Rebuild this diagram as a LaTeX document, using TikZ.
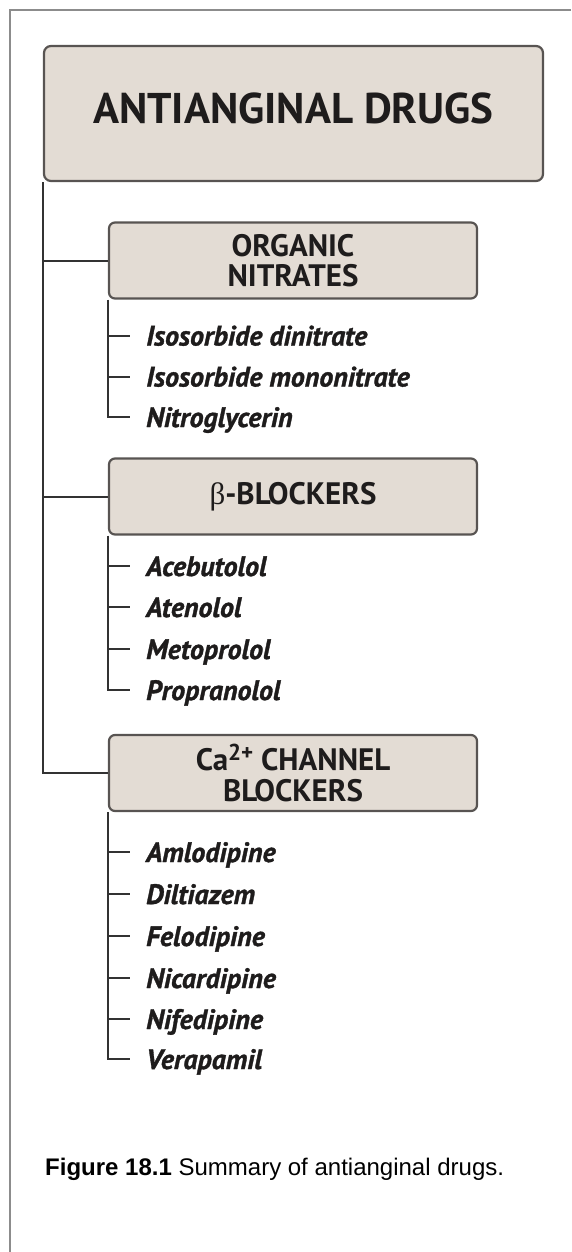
\documentclass[tikz,border=0pt]{standalone}
\usepackage{fontspec}
\setmainfont{PT Sans}
\newfontfamily\itemfont[FakeBold=1.2]{PT Sans}
\newfontfamily\capfont{Liberation Sans}
\newfontfamily\greekfont{Liberation Serif}
\definecolor{boxfill}{RGB}{227,220,212}
\definecolor{boxline}{RGB}{88,84,82}
\definecolor{treeline}{RGB}{50,50,50}
\definecolor{framegray}{RGB}{140,140,140}
\definecolor{ink}{RGB}{30,28,28}
\begin{document}
\begin{tikzpicture}[x=1pt,y=-1pt,
  titlebox/.style={draw=boxline, line width=2.2pt, fill=boxfill, rounded corners=7pt,
    minimum width=499pt, minimum height=135pt, inner sep=0pt,
    font=\fontsize{43}{43}\selectfont\bfseries, text=ink, text height=30pt, text depth=10pt},
  catbox/.style={draw=boxline, line width=2.2pt, fill=boxfill, rounded corners=6pt,
    minimum width=368pt, minimum height=76pt, inner sep=0pt, align=center,
    font=\fontsize{31}{30.5}\selectfont\bfseries, text=ink},
  drug/.style={anchor=west, inner sep=0pt, text=ink, text height=20pt, text depth=0pt,
    font=\itemfont\fontsize{28}{28}\selectfont\bfseries\itshape},
  tree/.style={draw=treeline, line width=2pt},
  tick/.style={draw=treeline, line width=2pt}
]
\useasboundingbox (0,0) rectangle (571,1252);
\draw[framegray, line width=2pt] (571,10) -- (10,10) -- (10,1252);

\node[titlebox] (top) at (293.5,113.5) {ANTIANGINAL DRUGS};

\node[catbox] (org) at (293,260.5) {ORGANIC\\NITRATES};
\node[catbox] (beta) at (293,496.5) {{\greekfont\mdseries β}-BLOCKERS};
\node[catbox] (ca) at (293,773) {Ca\raisebox{0.32em}{\fontsize{23}{23}\selectfont 2+} CHANNEL\\BLOCKERS};

% trunk and branches
\draw[tree] (top.south west) |- (ca.west);
\draw[tree] (top.south west |- org.west) -- (org.west);
\draw[tree] (top.south west |- beta.west) -- (beta.west);

% organic nitrates
\node[drug] (o1) at (146,335.5) {Isosorbide dinitrate};
\node[drug] (o2) at (146,376.5) {Isosorbide mononitrate};
\node[drug] (o3) at (146,417) {Nitroglycerin};
\draw[tick] (org.south west) |- ([xshift=-16pt]o3.west);
\draw[tick] (org.south west |- o1.west) -- ([xshift=-16pt]o1.west);
\draw[tick] (org.south west |- o2.west) -- ([xshift=-16pt]o2.west);

% beta blockers
\node[drug] (b1) at (146,566) {Acebutolol};
\node[drug] (b2) at (146,607) {Atenolol};
\node[drug] (b3) at (146,649) {Metoprolol};
\node[drug] (b4) at (146,690) {Propranolol};
\draw[tick] (beta.south west) |- ([xshift=-16pt]b4.west);
\draw[tick] (beta.south west |- b1.west) -- ([xshift=-16pt]b1.west);
\draw[tick] (beta.south west |- b2.west) -- ([xshift=-16pt]b2.west);
\draw[tick] (beta.south west |- b3.west) -- ([xshift=-16pt]b3.west);

% calcium channel blockers
\node[drug] (c1) at (146,852) {Amlodipine};
\node[drug] (c2) at (146,894) {Diltiazem};
\node[drug] (c3) at (146,936) {Felodipine};
\node[drug] (c4) at (146,978) {Nicardipine};
\node[drug] (c5) at (146,1019) {Nifedipine};
\node[drug] (c6) at (146,1059) {Verapamil};
\draw[tick] (ca.south west) |- ([xshift=-16pt]c6.west);
\draw[tick] (ca.south west |- c1.west) -- ([xshift=-16pt]c1.west);
\draw[tick] (ca.south west |- c2.west) -- ([xshift=-16pt]c2.west);
\draw[tick] (ca.south west |- c3.west) -- ([xshift=-16pt]c3.west);
\draw[tick] (ca.south west |- c4.west) -- ([xshift=-16pt]c4.west);
\draw[tick] (ca.south west |- c5.west) -- ([xshift=-16pt]c5.west);

\node[anchor=west, inner sep=0pt, font=\capfont\fontsize{24}{25}\selectfont, text=black] (cap) at (45,1169)
  {\textbf{Figure 18.1} Summary of antianginal drugs.};
\end{tikzpicture}
\end{document}
